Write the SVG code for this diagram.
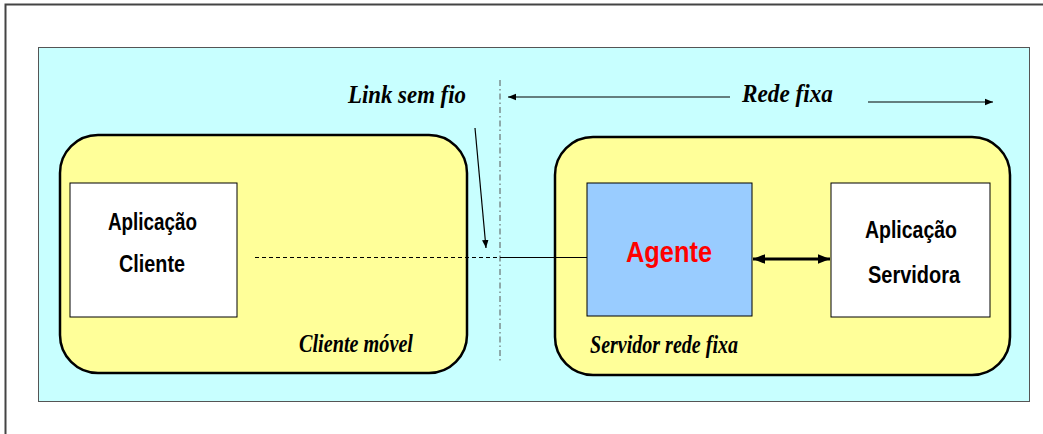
<svg xmlns="http://www.w3.org/2000/svg" width="1043" height="434" viewBox="0 0 1043 434">
<defs>
<style>
.lbl{font-family:"Liberation Serif",serif;font-weight:bold;font-style:italic;font-size:26px;fill:#000}
.box{font-family:"Liberation Sans",Arial,sans-serif;font-weight:bold;font-size:24px;fill:#000}
.node{stroke:#000;stroke-width:1}
.pan{fill:#FFFF99;stroke:#000;stroke-width:2.5}
</style>
<marker id="ah" viewBox="0 0 10 10" refX="10" refY="5" markerWidth="8" markerHeight="8" markerUnits="userSpaceOnUse" orient="auto-start-reverse"><path d="M0,1 L10,5 L0,9 z" fill="#000"/></marker>
<marker id="ahs" viewBox="0 0 10 10" refX="10" refY="5" markerWidth="12" markerHeight="12" markerUnits="userSpaceOnUse" orient="auto-start-reverse"><path d="M0,1 L10,5 L0,9 z" fill="#000"/></marker>
</defs>
<rect x="0" y="0" width="1043" height="434" fill="#fff"/>
<path d="M5.5,434 V4.5 H1043" fill="none" stroke="#444" stroke-width="2"/>
<rect x="38.5" y="47.5" width="991" height="354" fill="#C8FFFF" stroke="#555" stroke-width="1"/>
<g id="cliente-movel">
<rect class="pan" x="60" y="135" width="407" height="238" rx="38"/>
<text class="lbl" x="299" y="352" textLength="114" lengthAdjust="spacingAndGlyphs">Cliente móvel</text>
</g>
<g id="servidor-rede-fixa">
<rect class="pan" x="555" y="137" width="455" height="238" rx="38"/>
<text class="lbl" x="590" y="353" textLength="148" lengthAdjust="spacingAndGlyphs">Servidor rede fixa</text>
</g>
<g id="aplicacao-cliente">
<rect class="node" x="70" y="183" width="167" height="134" fill="#fff"/>
<text class="box" x="108" y="230" textLength="89" lengthAdjust="spacingAndGlyphs">Aplicação</text>
<text class="box" x="119" y="272" textLength="66" lengthAdjust="spacingAndGlyphs">Cliente</text>
</g>
<g id="agente">
<rect class="node" x="587" y="183" width="165" height="133" fill="#99CCFF"/>
<text x="626" y="262" textLength="86" lengthAdjust="spacingAndGlyphs" style="font-family:'Liberation Sans',Arial,sans-serif;font-weight:bold;font-size:30px;fill:#FF0000">Agente</text>
</g>
<g id="aplicacao-servidora">
<rect class="node" x="831" y="183" width="159" height="134" fill="#fff"/>
<text class="box" x="865" y="238" textLength="92" lengthAdjust="spacingAndGlyphs">Aplicação</text>
<text class="box" x="868" y="283" textLength="92" lengthAdjust="spacingAndGlyphs">Servidora</text>
</g>
<g id="labels">
<text class="lbl" x="348" y="103" textLength="118" lengthAdjust="spacingAndGlyphs">Link sem fio</text>
<text class="lbl" x="742" y="102" textLength="91" lengthAdjust="spacingAndGlyphs">Rede fixa</text>
</g>
<g id="connectors" fill="none" stroke="#000">
<line x1="500" y1="80" x2="500" y2="362" stroke="#555" stroke-width="1" stroke-dasharray="6,3,1.5,3"/>
<line x1="730" y1="97" x2="508" y2="97" stroke-width="1.2" marker-end="url(#ah)"/>
<line x1="868" y1="102" x2="993" y2="102" stroke-width="1.2" marker-end="url(#ah)"/>
<line x1="475" y1="128" x2="486" y2="248" stroke-width="1.2" marker-end="url(#ah)"/>
<line x1="255" y1="257.5" x2="500" y2="257.5" stroke-width="1.2" stroke-dasharray="4,3"/>
<line x1="500" y1="257.5" x2="587" y2="257.5" stroke-width="1.2"/>
<line x1="753" y1="259" x2="830" y2="259" stroke-width="3" marker-start="url(#ahs)" marker-end="url(#ahs)"/>
</g>
</svg>
